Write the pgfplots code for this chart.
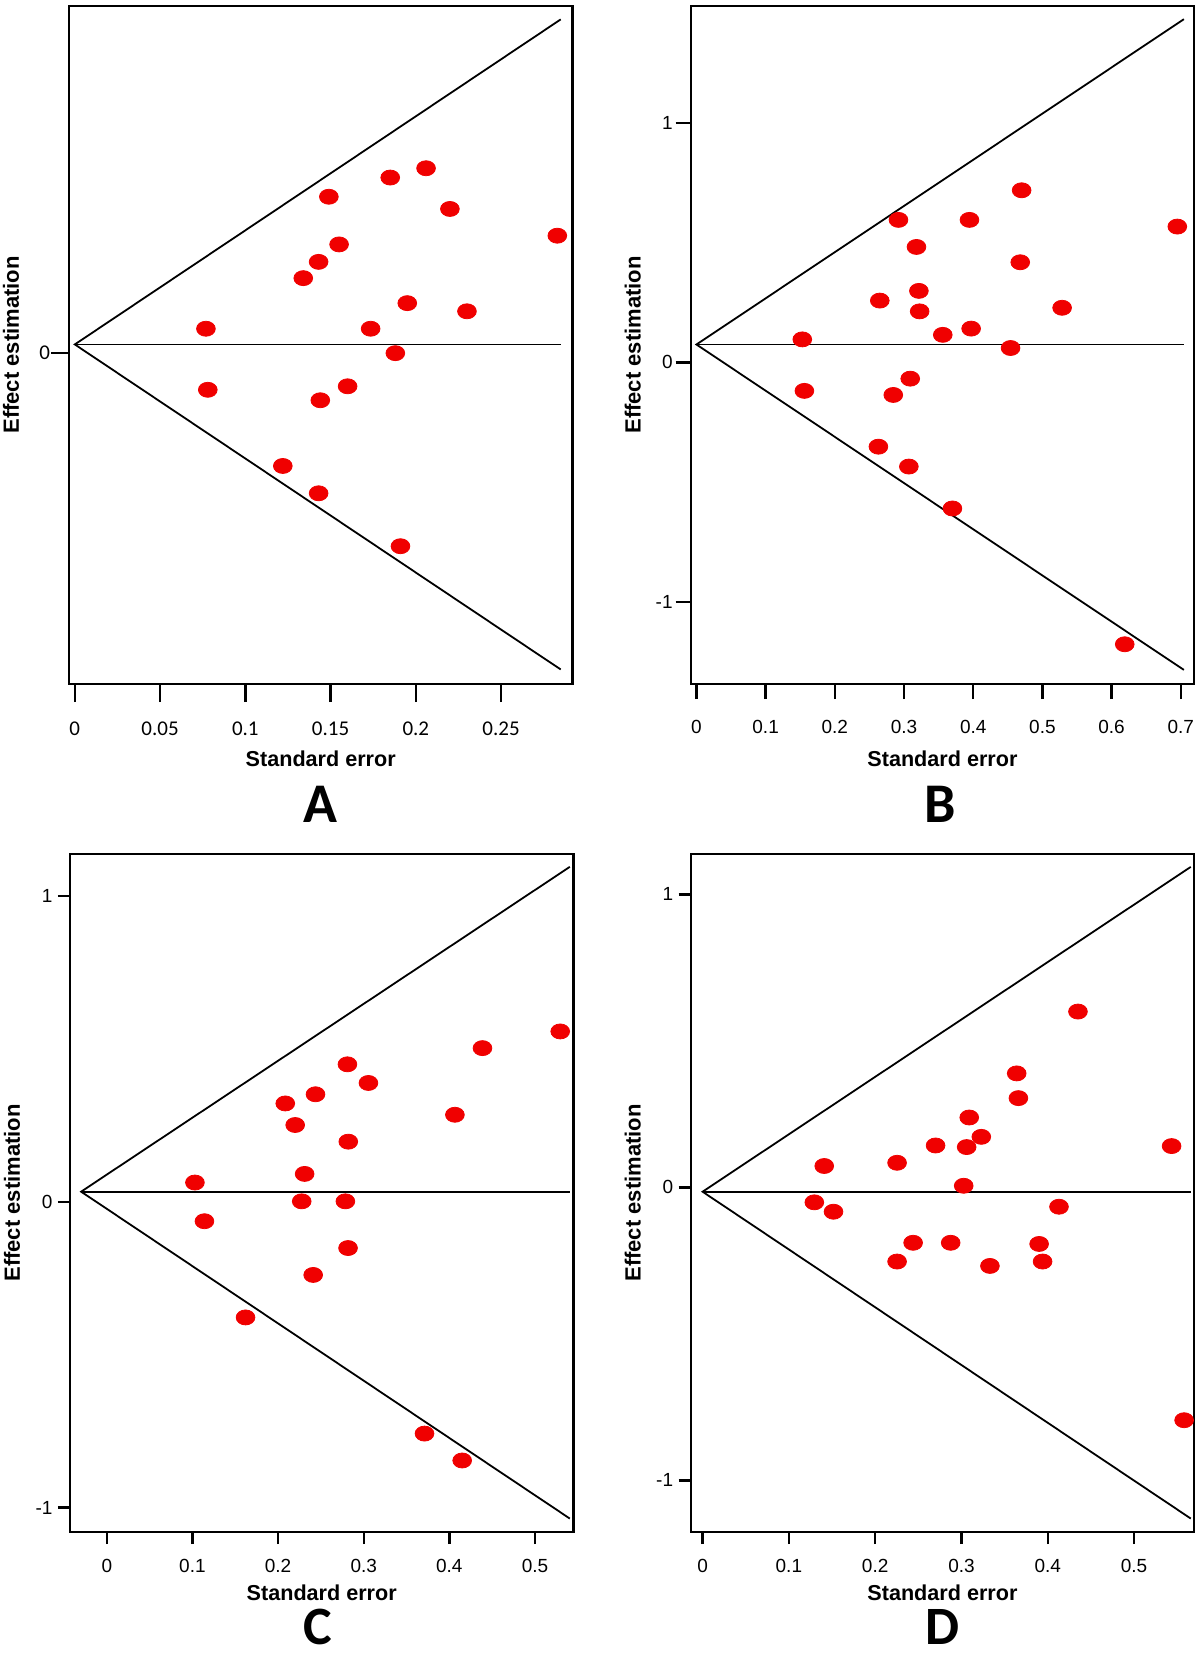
\documentclass[border=0pt]{standalone}
\usepackage{pgfplots}
\pgfplotsset{compat=1.18}
\usepackage{fontspec}
\setmainfont{Liberation Sans}
\newfontfamily\carlito{Carlito}
\definecolor{dotred}{RGB}{240,0,0}

\pgfplotsset{
  funnel/.style={
    scale only axis, width=251.75pt, height=339pt,
    anchor=north west, clip=false,
    axis line style={line width=1.2pt},
    every tick/.style={black, line width=1.2pt},
    tick align=outside, tick pos=left,
    /pgf/number format/assume math mode=true,
    ylabel={Effect estimation},
    xlabel={Standard error},
    ylabel style={at={([xshift=-29pt]axis description cs:0,0.5)}, anchor=center, rotate=0,
      font=\fontsize{11}{13}\selectfont\bfseries},
    xlabel style={font=\fontsize{10.8}{13}\selectfont\bfseries, anchor=center},
    yticklabel style={anchor=east},
    scaled ticks=false,
  },
  dots/.style={only marks, mark=*, mark size=3.75pt, color=dotred,
    mark options={xscale=1.25, draw=dotred, fill=dotred}},
  fline/.style={black, line width=0.9pt, mark=none},
}

\begin{document}
\begin{tikzpicture}
\useasboundingbox (0,0) rectangle (600pt,-831pt);

% ---------- A ----------
\begin{axis}[funnel, at={(34.5pt,-3pt)},
  xmin=-0.0034, xmax=0.2919, ymin=-0.569, ymax=0.597,
  xtick={0,0.05,0.1,0.15,0.2,0.25}, ytick={0},
  xticklabels={0,0.05,0.1,0.15,0.2,0.25},
  major tick length=9pt,
  ticklabel style={font=\carlito\fontsize{10.5}{12}\selectfont},
  xticklabel style={anchor=center, yshift=-13.5pt},
  yticklabel style={xshift=3pt},
  xlabel style={at={([yshift=-37.5pt]axis description cs:0.5,0)}},
]
\addplot[fline] coordinates {(0.285,0.574) (0,0.015) (0.285,-0.544)};
\addplot[fline] coordinates {(0,0.015) (0.285,0.015)};
\addplot[dots] coordinates {
(0.0769,0.042) (0.078,-0.063) (0.134,0.129) (0.143,0.157) (0.149,0.269)
(0.155,0.187) (0.185,0.302) (0.206,0.318) (0.220,0.248) (0.283,0.202)
(0.195,0.086) (0.230,0.072) (0.1735,0.042) (0.188,0.0) (0.160,-0.057)
(0.144,-0.081) (0.122,-0.194) (0.143,-0.241) (0.191,-0.332)
};
\end{axis}

% ---------- B ----------
\begin{axis}[funnel, at={(345.35pt,-3pt)},
  xmin=-0.0083, xmax=0.7194, ymin=-1.343, ymax=1.488,
  xtick={0,0.1,0.2,0.3,0.4,0.5,0.6,0.7}, ytick={-1,0,1},
  xticklabels={0,0.1,0.2,0.3,0.4,0.5,0.6,0.7},
  major tick length=7.5pt,
  ticklabel style={font=\fontsize{9.5}{11}\selectfont},
  xticklabel style={anchor=center, yshift=-14pt},
  yticklabel style={xshift=2pt},
  xlabel style={at={([yshift=-37.5pt]axis description cs:0.5,0)}},
]
\addplot[fline] coordinates {(0.7045,1.433) (0,0.0746) (0.7045,-1.284)};
\addplot[fline] coordinates {(0,0.0746) (0.7045,0.0746)};
\addplot[dots] coordinates {
(0.153,0.096) (0.156,-0.119) (0.265,0.258) (0.263,-0.352) (0.292,0.595)
(0.318,0.482) (0.3215,0.2985) (0.3226,0.213) (0.2845,-0.136) (0.309,-0.068)
(0.307,-0.435) (0.356,0.115) (0.370,-0.610) (0.3946,0.595) (0.397,0.141)
(0.470,0.7186) (0.468,0.418) (0.454,0.060) (0.5285,0.228) (0.695,0.567)
(0.619,-1.177)
};
\end{axis}

% ---------- C ----------
\begin{axis}[funnel, at={(35pt,-427pt)},
  xmin=-0.043, xmax=0.545, ymin=-1.080, ymax=1.138,
  xtick={0,0.1,0.2,0.3,0.4,0.5}, ytick={-1,0,1},
  xticklabels={0,0.1,0.2,0.3,0.4,0.5},
  major tick length=6pt,
  ticklabel style={font=\fontsize{9.5}{11}\selectfont},
  xticklabel style={anchor=center, yshift=-11pt},
  yticklabel style={xshift=0.75pt},
  xlabel style={at={([yshift=-30.5pt]axis description cs:0.5,0)}},
]
\addplot[fline] coordinates {(0.5407,1.096) (-0.030,0.0334) (0.5407,-1.036)};
\addplot[fline] coordinates {(-0.030,0.0334) (0.5407,0.0334)};
\addplot[dots] coordinates {
(0.1029,0.0633) (0.114,-0.0633) (0.162,-0.378) (0.2084,0.322) (0.220,0.2515)
(0.2437,0.352) (0.231,0.0915) (0.2276,0.0018) (0.241,-0.239) (0.281,0.450)
(0.282,0.197) (0.2786,0.0018) (0.2817,-0.151) (0.3055,0.389) (0.4065,0.285)
(0.4387,0.503) (0.5295,0.5576) (0.371,-0.758) (0.415,-0.846)
};
\end{axis}

% ---------- D ----------
\begin{axis}[funnel, at={(345.35pt,-427pt)},
  xmin=-0.01375, xmax=0.5697, ymin=-1.176, ymax=1.1376,
  xtick={0,0.1,0.2,0.3,0.4,0.5}, ytick={-1,0,1},
  xticklabels={0,0.1,0.2,0.3,0.4,0.5},
  major tick length=6pt,
  ticklabel style={font=\fontsize{9.5}{11}\selectfont},
  xticklabel style={anchor=center, yshift=-11pt},
  yticklabel style={xshift=0.75pt},
  xlabel style={at={([yshift=-30.5pt]axis description cs:0.5,0)}},
]
\addplot[fline] coordinates {(0.5657,1.0936) (0,-0.0147) (0.5657,-1.130)};
\addplot[fline] coordinates {(0,-0.0147) (0.5657,-0.0147)};
\addplot[dots] coordinates {
(0.1295,-0.051) (0.141,0.073) (0.1517,-0.083) (0.2254,0.084) (0.2254,-0.253)
(0.244,-0.189) (0.270,0.143) (0.2875,-0.189) (0.3026,0.0055) (0.306,0.1376)
(0.309,0.2385) (0.323,0.1725) (0.333,-0.268) (0.364,0.389) (0.366,0.3046)
(0.390,-0.193) (0.394,-0.253) (0.413,-0.066) (0.435,0.600) (0.5435,0.141)
(0.558,-0.7945)
};
\end{axis}

% panel letters
\node[inner sep=0pt, anchor=center, font=\carlito\bfseries\fontsize{28}{30}\selectfont] at (160pt,-402.25pt) {A};
\node[inner sep=0pt, anchor=center, font=\carlito\bfseries\fontsize{28}{30}\selectfont] at (470pt,-402.25pt) {B};
\node[inner sep=0pt, anchor=center, font=\carlito\bfseries\fontsize{27}{29}\selectfont] at (159pt,-813.5pt) {C};
\node[inner sep=0pt, anchor=center, font=\carlito\bfseries\fontsize{27}{29}\selectfont] at (471.5pt,-813.5pt) {D};
\end{tikzpicture}
\end{document}
